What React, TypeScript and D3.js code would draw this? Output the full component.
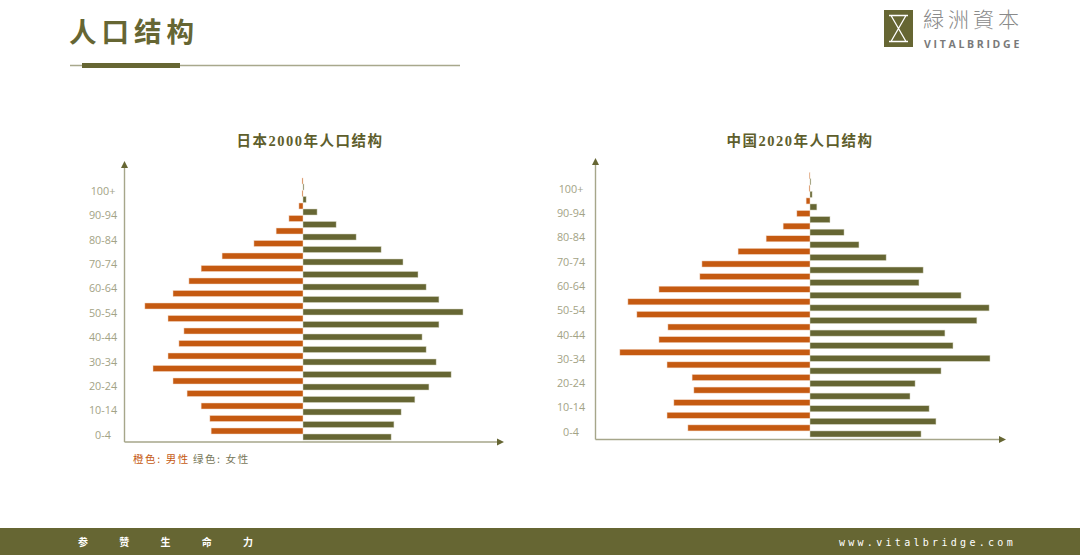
import * as d3 from 'd3'

// age groups, bottom to top
const ageGroups = ['0-4', '5-9', '10-14', '15-19', '20-24', '25-29', '30-34', '35-39', '40-44', '45-49',
  '50-54', '55-59', '60-64', '65-69', '70-74', '75-79', '80-84', '85-89', '90-94', '95-99', '100+']
const tickLabels = ['0-4', '10-14', '20-24', '30-34', '40-44', '50-54', '60-64', '70-74', '80-84', '90-94', '100+']

// 万人
const japanMale = [294, 298, 326, 371, 416, 480, 432, 397, 381, 432, 506, 416, 365, 326, 259, 157, 86, 45, 13, 3, 3]
const japanFemale = [282, 291, 314, 358, 403, 474, 426, 394, 381, 435, 512, 435, 394, 368, 320, 250, 170, 106, 45, 10, 3]
const chinaMale = [4090, 4790, 4560, 3890, 3950, 4790, 6370, 5060, 4760, 5800, 6100, 5060, 3690, 3620, 2410, 1470, 900, 440, 130, 30, 25]
const chinaFemale = [3720, 4220, 3990, 3350, 3520, 4390, 6030, 4790, 4520, 5590, 6000, 5060, 3650, 3790, 2550, 1640, 1140, 670, 230, 70, 30]

const OLIVE = '#666633'
const ORANGE = '#c55a11'
const AXIS = '#a6a68a'
const LABEL = '#a3a386'

type PyramidProps = {
  title: string, male: number[], female: number[],
  center: number, domainMax: number, halfWidth: number,
  bandTop: number, bandBottom: number, labelTop: number, labelBottom: number,
  axisX: number, axisY: number, axisTop: number, axisRight: number,
  labelX: number, titleX: number,
}

function Pyramid(p: PyramidProps) {
  const y = d3.scaleBand(ageGroups, [p.bandBottom, p.bandTop]).paddingInner(0.04)
  const yLabel = d3.scalePoint(ageGroups, [p.labelBottom, p.labelTop])
  const x = d3.scaleLinear([0, p.domainMax], [0, p.halfWidth])
  const bw = y.bandwidth()
  return (
    <g>
      <text x={p.titleX} y={146} textAnchor="middle" fill="#5e5e2c" fontSize={14.5} fontWeight="bold"
            letterSpacing={1.5} fontFamily="'Liberation Serif','Noto Sans CJK SC',serif">{p.title}</text>
      {ageGroups.map((a, i) => (
        <g key={a}>
          <rect x={p.center - x(p.male[i])} y={y(a)} width={x(p.male[i])} height={bw / 2} fill={ORANGE}
                stroke="#f3d9c8" strokeWidth={0.5}/>
          <rect x={p.center} y={(y(a) ?? 0) + bw / 2} width={x(p.female[i])} height={bw / 2} fill={OLIVE}
                stroke="#d6d6c4" strokeWidth={0.5}/>
        </g>
      ))}
      {tickLabels.map(t => (
        <text key={t} x={p.labelX} y={yLabel(t)} dy="0.35em" textAnchor="middle" fill={LABEL}
              fontSize={10.8} fontFamily="'Open Sans',sans-serif">{t}</text>
      ))}
      <line x1={p.axisX} x2={p.axisX} y1={p.axisY} y2={p.axisTop + 5} stroke={AXIS} strokeWidth={1.4}/>
      <line x1={p.axisX} x2={p.axisRight - 5} y1={p.axisY} y2={p.axisY} stroke={AXIS} strokeWidth={1.4}/>
      <path d={`M${p.axisX},${p.axisTop} l-3.5,7 h7 z`} fill={OLIVE}/>
      <path d={`M${p.axisRight},${p.axisY} l-7,-3.5 v7 z`} fill={OLIVE}/>
    </g>
  )
}

export default function App() {
  const footerWords = ['参', '赞', '生', '命', '力']
  const fx = d3.scalePoint(footerWords, [83, 248])
  return (
    <svg width={1080} height={555} style={{position: 'absolute', left: 0, top: 0, background: '#fff'}}
         fontFamily="'Noto Sans CJK SC',sans-serif">
      {/* header */}
      <text x={69} y={42} fill={OLIVE} fontSize={27.5} fontWeight="bold" letterSpacing={5}
            fontFamily="'Noto Sans CJK SC',serif">人口结构</text>
      <line x1={70} x2={460} y1={65.5} y2={65.5} stroke="#a8a88c" strokeWidth={1.3}/>
      <rect x={82} y={63} width={98} height={5} fill={OLIVE}/>

      {/* logo */}
      <rect x={884} y={10} width={29} height={37} fill={OLIVE}/>
      <path d="M889,15.5 H908 M889,41.5 H908 M891,15.5 L906,41.5 M906,15.5 L891,41.5" stroke="#fff"
            strokeWidth={1.3} fill="none"/>
      <text x={923} y={27} fill="#8a8a8a" fontSize={21} letterSpacing={4}
            fontFamily="'Noto Sans CJK TC',sans-serif" fontWeight={300}>緑洲資本</text>
      <text x={924} y={47.5} fill="#7a7a7a" fontSize={10.5} fontWeight="bold" letterSpacing={2.7}
            fontFamily="'Open Sans',sans-serif">VITALBRIDGE</text>

      <Pyramid title="日本2000年人口结构" male={japanMale} female={japanFemale}
               center={303} domainMax={600} halfWidth={187.5}
               bandTop={178} bandBottom={440} labelTop={191} labelBottom={435}
               axisX={124.5} axisY={442} axisTop={161} axisRight={504} labelX={103} titleX={310}/>
      <Pyramid title="中国2020年人口结构" male={chinaMale} female={chinaFemale}
               center={810} domainMax={6000} halfWidth={179.1}
               bandTop={172.7} bandBottom={437} labelTop={189} labelBottom={432}
               axisX={595.5} axisY={439.5} axisTop={158} axisRight={1006} labelX={571} titleX={800}/>

      {/* legend */}
      <text x={133} y={463} fontSize={10.5} letterSpacing={1.6}>
        <tspan fill={ORANGE}>橙色: 男性</tspan>
        <tspan fill="#77775a" dx={3}>绿色: 女性</tspan>
      </text>

      {/* footer */}
      <rect x={0} y={528} width={1080} height={27} fill={OLIVE}/>
      {footerWords.map(w => (
        <text key={w} x={fx(w)} y={546} textAnchor="middle" fill="#fff" fontSize={10} fontWeight="bold">{w}</text>
      ))}
      <text x={1016} y={546} textAnchor="end" fill="#fff" fontSize={10} letterSpacing={3.3}
            fontFamily="'DejaVu Sans Mono',monospace">www.vitalbridge.com</text>
    </svg>
  )
}
